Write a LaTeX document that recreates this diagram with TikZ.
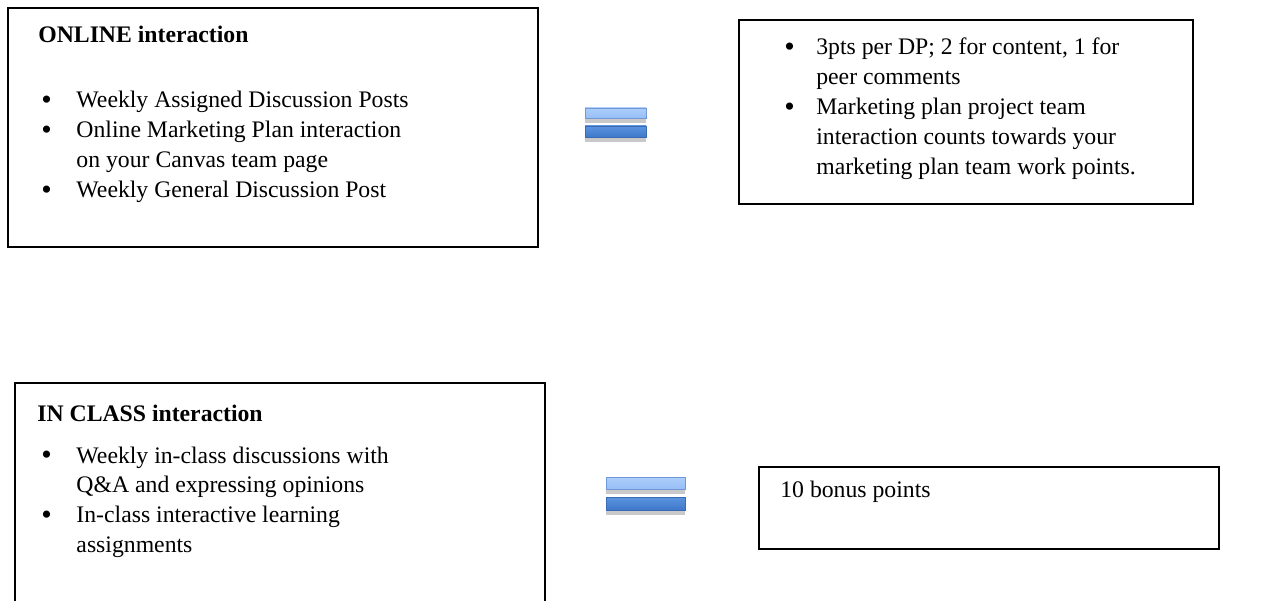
\documentclass[tikz,border=0pt]{standalone}
\usepackage{fontspec}
\setmainfont{Liberation Serif}
\usetikzlibrary{positioning, shadows}
\definecolor{barlight}{RGB}{150, 190, 246}
\definecolor{barlighttop}{RGB}{172, 206, 250}
\definecolor{barlightedge}{RGB}{112, 152, 214}
\definecolor{bardark}{RGB}{62, 120, 202}
\definecolor{bardarktop}{RGB}{92, 148, 222}
\definecolor{bardarkedge}{RGB}{58, 108, 182}
\newcommand{\bigbullet}{\raisebox{-0.9pt}{\fontsize{17}{17}\selectfont\textbullet}}

\begin{document}
\begin{tikzpicture}[x=0.02cm, y=-0.02cm,
    box/.style={draw=black, line width=1.2pt, anchor=north west, inner sep=0pt},
    titletext/.style={anchor=base west, inner sep=0pt, font=\fontsize{13.5}{16.8}\selectfont\bfseries},
    listtext/.style={anchor=base west, inner sep=0pt, font=\fontsize{13.5}{17}\selectfont},
    toptbar/.style={draw=barlightedge, line width=0.5pt, top color=barlighttop, bottom color=barlight,
          drop shadow={shadow xshift=0pt, shadow yshift=-3pt, opacity=0.3, fill=black!70}, inner sep=0pt},
    botbar/.style={draw=bardarkedge, line width=0.5pt, top color=bardarktop, bottom color=bardark,
          drop shadow={shadow xshift=0pt, shadow yshift=-3pt, opacity=0.3, fill=black!70}, inner sep=0pt}]
    \useasboundingbox (0,0) rectangle (1278,601);

    % Boxes
    \node[box, minimum width=10.6cm, minimum height=4.78cm] (online) at (7,7) {};
    \node[box, minimum width=9.08cm, minimum height=3.68cm] (onlinepts) at (738,19) {};
    \node[box, minimum width=10.6cm, minimum height=4.8cm] (inclass) at (14,382) {};
    \node[box, minimum width=9.2cm, minimum height=1.64cm] (inclasspts) at (758,466) {};

    % Texts
    \node[titletext] (onlinetitle) at (38,43) {ONLINE interaction};
    \node[listtext] (onlinelist) at (41,108) {\begin{tabular}[t]{@{}p{20pt}@{}l@{}}
        \bigbullet & Weekly Assigned Discussion Posts\\
        \bigbullet & Online Marketing Plan interaction\\
                   & on your Canvas team page\\
        \bigbullet & Weekly General Discussion Post
      \end{tabular}};

    \node[listtext] (onlineptslist) at (784,55) {\begin{tabular}[t]{@{}p{18.2pt}@{}l@{}}
        \bigbullet & 3pts per DP; 2 for content, 1 for\\
                   & peer comments\\
        \bigbullet & Marketing plan project team\\
                   & interaction counts towards your\\
                   & marketing plan team work points.
      \end{tabular}};

    \node[titletext] (inclasstitle) at (37,421) {IN CLASS interaction};
    \node[listtext] (inclasslist) at (41,463) {\begin{tabular}[t]{@{}p{20pt}@{}l@{}}
        \bigbullet & Weekly in-class discussions with\\
                   & Q\&A and expressing opinions\\
        \bigbullet & In-class interactive learning\\
                   & assignments
      \end{tabular}};

    \node[listtext] (bonus) at (780,497) {10 bonus points};

    % Equal signs
    \node[toptbar, minimum width=1.22cm, minimum height=0.2cm] (eqonetop) at (615.5,113) {};
    \node[botbar, minimum width=1.22cm, minimum height=0.22cm] (eqonebot) at (615.5,131.5) {};
    \node[toptbar, minimum width=1.58cm, minimum height=0.24cm] (eqtwotop) at (645.5,483) {};
    \node[botbar, minimum width=1.58cm, minimum height=0.26cm] (eqtwobot) at (645.5,503.5) {};
\end{tikzpicture}
\end{document}
